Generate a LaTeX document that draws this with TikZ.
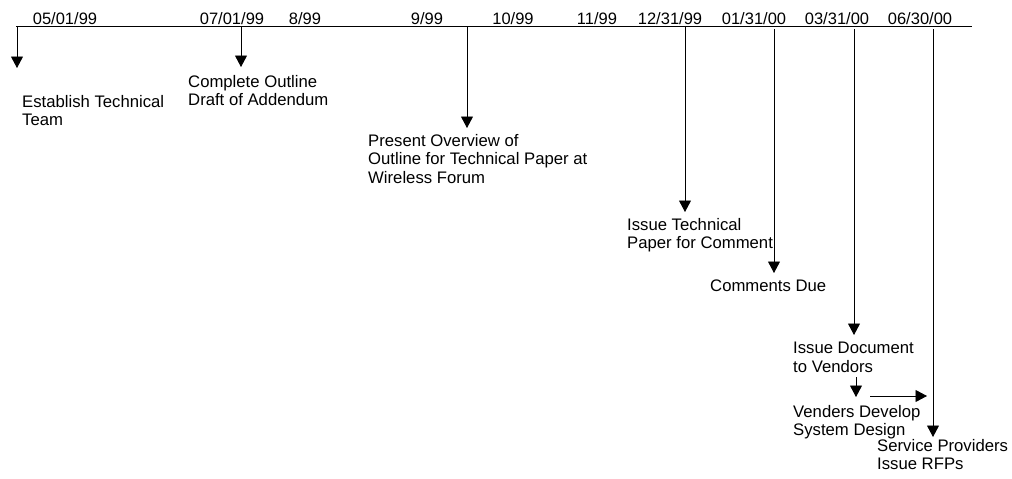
\documentclass[tikz,border=0pt]{standalone}
\usepackage{fontspec}
\setmainfont{Liberation Sans}
\usetikzlibrary{arrows.meta}

\begin{document}
\begin{tikzpicture}[x=1pt, y=-1pt,
datenode/.style={anchor=base, inner sep=0pt, font=\fontsize{16.5}{18.5}\selectfont},
tasknode/.style={anchor=north west, align=left, inner sep=0pt, font=\fontsize{16.7}{18.5}\selectfont},
milestone/.style={-{Triangle[width=12pt,length=11.5pt]}, line width=0.9pt}
]
    \useasboundingbox (0,0) rectangle (1012,479);

    % time line
    \coordinate (tl0) at (16,26);
    \coordinate (tl1) at (972,26);
    \draw[line width=0.9pt] (tl0) -- (tl1);

    % dates
    \node[datenode] (d1) at (65,24) {05/01/99};
    \node[datenode] (d2) at (232,24) {07/01/99};
    \node[datenode] (d3) at (305,24) {8/99};
    \node[datenode] (d4) at (427,24) {9/99};
    \node[datenode] (d5) at (513,24) {10/99};
    \node[datenode] (d6) at (597,24) {11/99};
    \node[datenode] (d7) at (670,24) {12/31/99};
    \node[datenode] (d8) at (754,24) {01/31/00};
    \node[datenode] (d9) at (837,24) {03/31/00};
    \node[datenode] (d10) at (920,24) {06/30/00};

    % tasks
    \node[tasknode] (t1) at (22,95) {Establish Technical\\Team};
    \node[tasknode] (t2) at (188,75) {Complete Outline\\Draft of Addendum};
    \node[tasknode] (t3) at (368,134) {Present Overview of\\Outline for Technical Paper at\\Wireless Forum};
    \node[tasknode] (t4) at (627,218) {Issue Technical\\Paper for Comment};
    \node[tasknode] (t5) at (710,280) {Comments Due};
    \node[tasknode] (t6) at (793,342) {Issue Document\\to Vendors};
    \node[tasknode] (t7) at (793,405) {Venders Develop\\System Design};
    \node[tasknode] (t8) at (877,439) {Service Providers\\Issue RFPs};

    % milestone arrows
    \coordinate (s1) at (17,26);  \coordinate (e1) at (17,68);
    \coordinate (s2) at (241,26); \coordinate (e2) at (241,67);
    \coordinate (s3) at (467,26); \coordinate (e3) at (467,128);
    \coordinate (s4) at (685,26); \coordinate (e4) at (685,212);
    \coordinate (s5) at (774,29); \coordinate (e5) at (774,273);
    \coordinate (s6) at (854,29); \coordinate (e6) at (854,335);
    \coordinate (s7) at (856,377); \coordinate (e7) at (856,397);
    \coordinate (s8) at (870,396); \coordinate (e8) at (927,396);
    \coordinate (s9) at (933,29); \coordinate (e9) at (933,437);

    \foreach \i in {1,...,9}
        \draw[milestone] (s\i) -- (e\i);
\end{tikzpicture}
\end{document}
